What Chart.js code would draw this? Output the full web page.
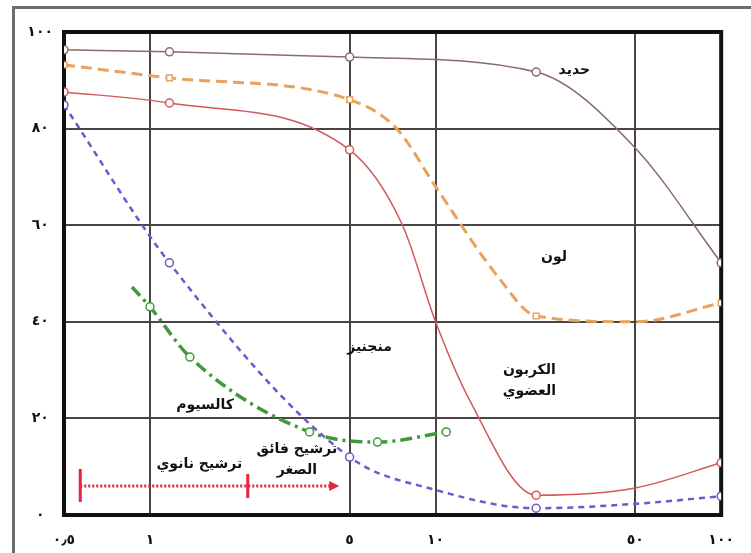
<!DOCTYPE html>
<html lang="ar">
<head>
    <meta charset="UTF-8">
    <title>نسبة الإزالة حسب حجم المسام</title>
    <script src="https://cdn.jsdelivr.net/npm/chart.js"></script>
    <style>
        body {
            margin: 0;
            padding: 0;
            background: #ffffff;
        }
    </style>
</head>
<body>
    <canvas id="chart" width="751" height="553"></canvas>

    <script>
        // x = pore size (log axis), y = removal %
        const xTicks = [0.5, 1, 5, 10, 50, 100];
        const yTicks = [0, 20, 40, 60, 80, 100];

        // حديد
        const ironX = [0.5, 1.17, 5, 22.5, 50, 100];
        const ironY = [96.3, 95.9, 94.8, 91.7, 76, 52.2];
        const ironMarks = [0.5, 1.17, 5, 22.5, 100];

        // لون
        const colorX = [0.5, 1.17, 5, 7.3, 10, 16.7, 22.5, 50, 100];
        const colorY = [93.2, 90.5, 86, 80, 68, 49, 41.2, 40, 43.9];
        const colorMarks = [0.5, 1.17, 5, 22.5, 100];

        // الكربون العضوي
        const carbonX = [0.5, 1.17, 5, 7.66, 10, 13.1, 22.5, 50, 100];
        const carbonY = [87.6, 85.3, 75.6, 60, 40, 24, 4.1, 5.6, 10.8];
        const carbonMarks = [0.5, 1.17, 5, 22.5, 100];

        // منجنيز
        const manganeseX = [0.5, 1.17, 5, 10, 22.5, 50, 100];
        const manganeseY = [84.9, 52.2, 12, 5.2, 1.4, 2.3, 3.9];
        const manganeseMarks = [0.5, 1.17, 5, 22.5, 100];

        // كالسيوم
        const calciumX = [0.865, 1.0, 1.38, 3.62, 6.26, 10.9];
        const calciumY = [47.2, 43.1, 32.7, 17.2, 15.1, 17.2];
        const calciumMarks = [1.0, 1.38, 3.62, 6.26, 10.9];

        // filtration ranges: start, split, arrow end
        const rangeX = [0.57, 2.2, 4.6];
        const rangeY = 6;

        const notes = [
            { text: ["حديد"], x: 30.6, y: 92.1 },
            { text: ["لون"], x: 26, y: 53.4 },
            { text: ["الكربون", "العضوي"], x: 21.3, y: 30 },
            { text: ["منجنيز"], x: 5.87, y: 34.8 },
            { text: ["كالسيوم"], x: 1.56, y: 22.8 },
            { text: ["ترشيح نانوي"], x: 1.49, y: 10.4 },
            { text: ["ترشيح فائق", "الصغر"], x: 3.27, y: 13.5 }
        ];

        const arabicDigits = "٠١٢٣٤٥٦٧٨٩";
        function toArabic(v) {
            return String(v).replace(/[0-9]/g, d => arabicDigits[d]).replace(".", "٫");
        }

        function points(xs, ys) {
            return xs.map((x, i) => ({ x: x, y: ys[i] }));
        }

        function series(xs, ys, marks, color, width, dash, shape) {
            return {
                data: points(xs, ys),
                borderColor: color,
                borderWidth: width,
                borderDash: dash,
                cubicInterpolationMode: "monotone",
                backgroundColor: "#ffffff",
                pointBackgroundColor: "#ffffff",
                pointBorderColor: color,
                pointBorderWidth: 1.5,
                pointStyle: shape,
                pointRadius: c => marks.includes(c.raw.x) ? 4 : 0,
                fill: false
            };
        }

        const frame = {
            id: "frame",
            beforeDraw(chart) {
                const ctx = chart.ctx;
                ctx.save();
                ctx.strokeStyle = "#6d6d6d";
                ctx.lineWidth = 3;
                ctx.strokeRect(13.5, 7.5, 800, 600);
                ctx.restore();
            },
            beforeDatasetsDraw(chart) {
                const a = chart.chartArea;
                const ctx = chart.ctx;
                ctx.save();
                ctx.strokeStyle = "#111111";
                ctx.lineWidth = 4;
                ctx.strokeRect(a.left, a.top, a.right - a.left, a.bottom - a.top);
                ctx.restore();
            },
            afterDatasetsDraw(chart) {
                const ctx = chart.ctx;
                const sx = chart.scales.x, sy = chart.scales.y;
                ctx.save();

                // red range arrow
                const yy = sy.getPixelForValue(rangeY);
                const x0 = sx.getPixelForValue(rangeX[0]);
                const x1 = sx.getPixelForValue(rangeX[1]);
                const x2 = sx.getPixelForValue(rangeX[2]);
                ctx.strokeStyle = "#e3243c";
                ctx.lineWidth = 3;
                ctx.setLineDash([2, 2]);
                ctx.beginPath();
                ctx.moveTo(x0, yy);
                ctx.lineTo(x2 - 8, yy);
                ctx.stroke();
                ctx.setLineDash([]);
                ctx.lineWidth = 3;
                ctx.beginPath();
                ctx.moveTo(x0, yy - 17);
                ctx.lineTo(x0, yy + 16);
                ctx.moveTo(x1, yy - 12);
                ctx.lineTo(x1, yy + 12);
                ctx.stroke();
                ctx.fillStyle = "#e3243c";
                ctx.beginPath();
                ctx.moveTo(x2, yy);
                ctx.lineTo(x2 - 10, yy - 5);
                ctx.lineTo(x2 - 10, yy + 5);
                ctx.closePath();
                ctx.fill();

                // labels
                ctx.fillStyle = "#111111";
                ctx.font = "bold 14px 'DejaVu Sans'";
                ctx.textAlign = "center";
                ctx.textBaseline = "middle";
                notes.forEach(n => {
                    const px = sx.getPixelForValue(n.x);
                    const py = sy.getPixelForValue(n.y);
                    n.text.forEach((t, i) => ctx.fillText(t, px, py + i * 21));
                });
                ctx.restore();
            }
        };

        const tickFont = { family: "DejaVu Sans", size: 14, weight: "bold" };

        new Chart(document.getElementById("chart").getContext("2d"), {
            type: "line",
            data: {
                datasets: [
                    series(ironX, ironY, ironMarks, "#8c6a6a", 1.5, [], "circle"),
                    series(colorX, colorY, colorMarks, "#e9a25c", 3, [11, 6], "rect"),
                    series(carbonX, carbonY, carbonMarks, "#d4585a", 1.5, [], "circle"),
                    series(manganeseX, manganeseY, manganeseMarks, "#6a5acd", 2.5, [6, 5], "circle"),
                    series(calciumX, calciumY, calciumMarks, "#3f9a3a", 3.5, [12, 5, 3, 5], "circle")
                ]
            },
            options: {
                responsive: false,
                animation: false,
                layout: { padding: { left: 14, right: 26, top: 32, bottom: 0 } },
                plugins: {
                    legend: { display: false },
                    tooltip: { enabled: false }
                },
                scales: {
                    x: {
                        type: "logarithmic",
                        min: 0.5,
                        max: 100,
                        afterBuildTicks: s => { s.ticks = xTicks.map(v => ({ value: v })); },
                        afterFit: s => { s.height = 38; },
                        border: { display: false },
                        grid: { color: "#4a4444", lineWidth: 2, drawTicks: false },
                        ticks: {
                            autoSkip: false,
                            maxRotation: 0,
                            padding: 17,
                            color: "#111111",
                            font: tickFont,
                            callback: v => toArabic(v)
                        }
                    },
                    y: {
                        min: 0,
                        max: 100,
                        afterBuildTicks: s => { s.ticks = yTicks.map(v => ({ value: v })); },
                        afterFit: s => { s.width = 50; },
                        border: { display: false },
                        grid: { color: "#4a4444", lineWidth: 2, drawTicks: false },
                        ticks: {
                            crossAlign: "center",
                            padding: 11,
                            color: "#111111",
                            font: tickFont,
                            callback: v => toArabic(v)
                        }
                    }
                }
            },
            plugins: [frame]
        });
    </script>
</body>
</html>
